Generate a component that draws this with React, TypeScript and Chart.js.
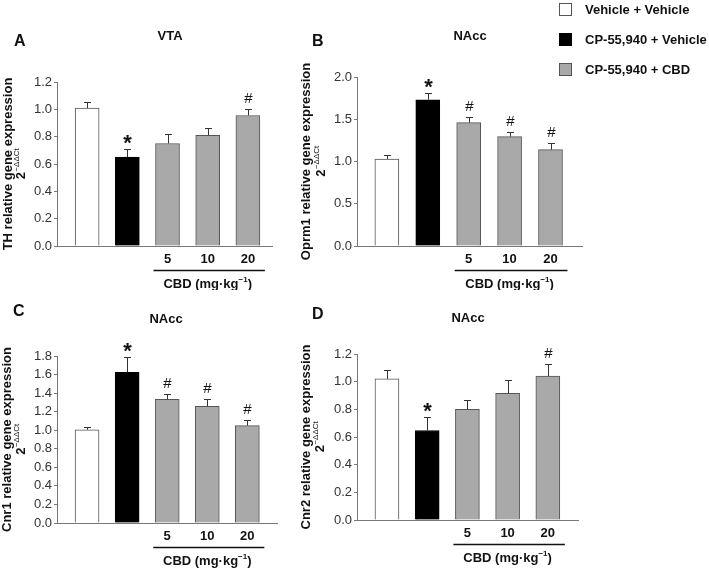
import React, { useEffect, useRef } from 'react';
import { Chart, registerables } from 'chart.js';

Chart.register(...registerables);

const FONT = '"Liberation Sans", Arial, Helvetica, sans-serif';

// ---- data ----
const groupLabels = ['Vehicle + Vehicle', 'CP-55,940 + Vehicle', 'CP-55,940 + CBD'];
const groupFills = ['#ffffff', '#000000', '#a9a9a9'];
const groupBorders = ['#555555', '#000000', '#555555'];
const barGroups = [0, 1, 2, 2, 2];
const doseTicks = ['', '', '5', '10', '20'];
const doseAxisTitle = 'CBD (mg·kg';
const doseAxisSup = '−1';
const yTitleSub = '2';
const yTitleSup = '−ΔΔCt';

const thMean = [1.01, 0.65, 0.75, 0.81, 0.955];
const thErr = [0.04, 0.06, 0.07, 0.055, 0.05];
const thSig = ['', '*', '', '', '#'];

const oprm1Mean = [1.03, 1.73, 1.46, 1.295, 1.14];
const oprm1Err = [0.05, 0.08, 0.065, 0.05, 0.08];
const oprm1Sig = ['', '*', '#', '#', '#'];

const cnr1Mean = [1.005, 1.625, 1.333, 1.257, 1.05];
const cnr1Err = [0.035, 0.165, 0.055, 0.08, 0.055];
const cnr1Sig = ['', '*', '#', '#', '#'];

const cnr2Mean = [1.02, 0.647, 0.8, 0.915, 1.04];
const cnr2Err = [0.065, 0.1, 0.07, 0.1, 0.09];
const cnr2Sig = ['', '*', '', '', '#'];

type Panel = {
  letter: string; region: string; yTitle: string;
  mean: number[]; err: number[]; sig: string[];
  yMax: number; step: number;
  left: number; top: number; w: number; h: number;
  area: { l: number; r: number; t: number; b: number };
  xMin: number; xMax: number;
  letterPos: [number, number]; titlePos: [number, number];
  yT1: number; yT2: number;
};

const panels: Panel[] = [
  {
    letter: 'A', region: 'VTA', yTitle: 'TH relative gene expression',
    mean: thMean, err: thErr, sig: thSig, yMax: 1.2, step: 0.2,
    left: 0, top: 0, w: 300, h: 290,
    area: { l: 57, r: 272, t: 82, b: 246 }, xMin: -0.75, xMax: 4.6,
    letterPos: [14, 42], titlePos: [170, 36], yT1: 8, yT2: 21,
  },
  {
    letter: 'B', region: 'NAcc', yTitle: 'Oprm1 relative gene expression',
    mean: oprm1Mean, err: oprm1Err, sig: oprm1Sig, yMax: 2.0, step: 0.5,
    left: 290, top: 0, w: 300, h: 290,
    area: { l: 67, r: 292, t: 77, b: 246 }, xMin: -0.73, xMax: 4.77,
    letterPos: [22, 42], titlePos: [180, 36], yT1: 16, yT2: 31,
  },
  {
    letter: 'C', region: 'NAcc', yTitle: 'Cnr1 relative gene expression',
    mean: cnr1Mean, err: cnr1Err, sig: cnr1Sig, yMax: 1.8, step: 0.2,
    left: 0, top: 290, w: 300, h: 279,
    area: { l: 57, r: 277, t: 66, b: 233 }, xMin: -0.75, xMax: 4.74,
    letterPos: [13, 22], titlePos: [166, 29], yT1: 7, yT2: 21,
  },
  {
    letter: 'D', region: 'NAcc', yTitle: 'Cnr2 relative gene expression',
    mean: cnr2Mean, err: cnr2Err, sig: cnr2Sig, yMax: 1.2, step: 0.2,
    left: 290, top: 290, w: 300, h: 279,
    area: { l: 67, r: 288, t: 64, b: 230 }, xMin: -0.745, xMax: 4.75,
    letterPos: [22, 25], titlePos: [178, 28], yT1: 16, yT2: 30,
  },
];

function makeDecor(p: Panel) {
  return {
    id: 'decor' + p.letter,
    afterDatasetsDraw(chart: any) {
      const ctx: CanvasRenderingContext2D = chart.ctx;
      const x = chart.scales.x;
      const y = chart.scales.y;
      const ca = chart.chartArea;
      ctx.save();
      // error bars and markers
      p.mean.forEach((m, i) => {
        const xp = Math.round(x.getPixelForValue(i)) + 0.5;
        const yb = y.getPixelForValue(m);
        const yt = Math.round(y.getPixelForValue(m + p.err[i])) + 0.5;
        ctx.strokeStyle = '#333';
        ctx.lineWidth = 1;
        ctx.beginPath();
        ctx.moveTo(xp, yb);
        ctx.lineTo(xp, yt);
        ctx.moveTo(xp - 3.5, yt);
        ctx.lineTo(xp + 3.5, yt);
        ctx.stroke();
        const s = p.sig[i];
        if (s) {
          ctx.fillStyle = '#111';
          ctx.textAlign = 'center';
          ctx.textBaseline = 'alphabetic';
          if (s === '*') {
            ctx.font = 'bold 22px ' + FONT;
            ctx.fillText(s, xp, yt + 0);
          } else {
            ctx.font = '15px ' + FONT;
            ctx.fillText(s, xp, yt - 7);
          }
        }
      });
      // CBD dose group line + label
      const x2 = x.getPixelForValue(2);
      const x4 = x.getPixelForValue(4);
      const ax = ca.bottom;
      ctx.strokeStyle = '#111';
      ctx.lineWidth = 1.5;
      ctx.beginPath();
      ctx.moveTo(x2 - 14, ax + 24.5);
      ctx.lineTo(x4 + 17, ax + 24.5);
      ctx.stroke();
      const cx = (x2 + x4) / 2;
      ctx.fillStyle = '#111';
      ctx.textBaseline = 'middle';
      ctx.font = 'bold 13px ' + FONT;
      const w1 = ctx.measureText(doseAxisTitle).width;
      ctx.font = 'bold 8px ' + FONT;
      const w2 = ctx.measureText(doseAxisSup).width;
      ctx.font = 'bold 13px ' + FONT;
      const w3 = ctx.measureText(')').width;
      const sx = cx - (w1 + w2 + w3) / 2;
      const ly = ax + 38;
      ctx.textAlign = 'left';
      ctx.fillText(doseAxisTitle, sx, ly);
      ctx.font = 'bold 8px ' + FONT;
      ctx.fillText(doseAxisSup, sx + w1, ly - 4);
      ctx.font = 'bold 13px ' + FONT;
      ctx.fillText(')', sx + w1 + w2, ly);
      // panel letter and region title
      ctx.font = 'bold 16px ' + FONT;
      ctx.textAlign = 'left';
      ctx.fillText(p.letter, p.letterPos[0], p.letterPos[1]);
      ctx.font = 'bold 13px ' + FONT;
      ctx.textAlign = 'center';
      ctx.fillText(p.region, p.titlePos[0], p.titlePos[1]);
      // y axis title (two lines, rotated)
      const cy = (ca.top + ca.bottom) / 2;
      ctx.save();
      ctx.translate(p.yT1, cy);
      ctx.rotate(-Math.PI / 2);
      ctx.font = 'bold 13px ' + FONT;
      ctx.textAlign = 'center';
      ctx.fillText(p.yTitle, 0, 0);
      ctx.restore();
      ctx.save();
      ctx.translate(p.yT2, cy);
      ctx.rotate(-Math.PI / 2);
      ctx.font = 'bold 13px ' + FONT;
      const a = ctx.measureText(yTitleSub).width;
      ctx.font = '8px ' + FONT;
      const b = ctx.measureText(yTitleSup).width;
      ctx.textAlign = 'left';
      ctx.font = 'bold 13px ' + FONT;
      ctx.fillText(yTitleSub, -(a + b) / 2, 0);
      ctx.font = '8px ' + FONT;
      ctx.fillText(yTitleSup, -(a + b) / 2 + a + 0.5, -4);
      ctx.restore();
      ctx.restore();
    },
  };
}

function PanelChart({ p }: { p: Panel }) {
  const ref = useRef<HTMLCanvasElement | null>(null);
  useEffect(() => {
    if (!ref.current) return;
    const datasets = groupLabels.map((label, g) => ({
      label,
      data: p.mean
        .map((m, i) => ({ x: i, y: m, g: barGroups[i] }))
        .filter((d) => d.g === g)
        .map((d) => ({ x: d.x, y: d.y })),
      backgroundColor: groupFills[g],
      borderColor: groupBorders[g],
      borderWidth: 1,
      barThickness: 24,
      grouped: false,
    }));
    const chart = new Chart(ref.current, {
      type: 'bar',
      data: { datasets } as any,
      options: {
        animation: false,
        responsive: false,
        devicePixelRatio: 1,
        layout: { padding: { left: 0, right: p.w - p.area.r, top: p.area.t, bottom: 0 } },
        plugins: { legend: { display: false }, tooltip: { enabled: false }, title: { display: false } },
        scales: {
          x: {
            type: 'linear',
            min: p.xMin,
            max: p.xMax,
            offset: false,
            afterBuildTicks: (s: any) => {
              s.ticks = doseTicks.map((_, i) => ({ value: i }));
            },
            afterFit: (s: any) => {
              s.height = p.h - p.area.b;
            },
            grid: { display: true, drawOnChartArea: false, drawTicks: false, offset: false, color: '#777' },
            border: { display: true, color: '#777', width: 1 },
            ticks: {
              callback: (v: any) => doseTicks[Math.round(Number(v))] ?? '',
              font: { family: FONT, size: 13, weight: 'bold' },
              color: '#111',
              padding: 6,
              maxRotation: 0,
              autoSkip: false,
            },
          },
          y: {
            min: 0,
            max: p.yMax,
            afterFit: (s: any) => {
              s.width = p.area.l;
            },
            grid: { display: true, drawOnChartArea: false, drawTicks: true, tickLength: 3, color: '#777' },
            border: { display: true, color: '#777', width: 1 },
            ticks: {
              stepSize: p.step,
              autoSkip: false,
              callback: (v: any) => Number(v).toFixed(1),
              font: { family: FONT, size: 13 },
              color: '#333',
              padding: 2,
            },
          },
        },
      } as any,
      plugins: [makeDecor(p)],
    });
    return () => chart.destroy();
  }, [p]);
  return (
    <canvas
      ref={ref}
      width={p.w}
      height={p.h}
      style={{ position: 'absolute', left: p.left, top: p.top, width: p.w, height: p.h, display: 'block' }}
    />
  );
}

export default function App() {
  return (
    <div style={{ position: 'absolute', left: 0, top: 0, width: 709, height: 569, background: '#fff', overflow: 'hidden' }}>
      {panels.map((p) => (
        <PanelChart key={p.letter} p={p} />
      ))}
      {groupLabels.map((label, g) => (
        <div
          key={label}
          style={{ position: 'absolute', left: 559, top: 2 + g * 30, height: 14, display: 'flex', alignItems: 'center', fontFamily: FONT, fontWeight: 'bold', fontSize: 13, color: '#111', whiteSpace: 'nowrap' }}
        >
          <span style={{ display: 'inline-block', width: 11, height: 11, background: groupFills[g], border: '1px solid ' + (g === 1 ? '#000' : '#555'), marginRight: 13 }} />
          <span>{label}</span>
        </div>
      ))}
    </div>
  );
}
